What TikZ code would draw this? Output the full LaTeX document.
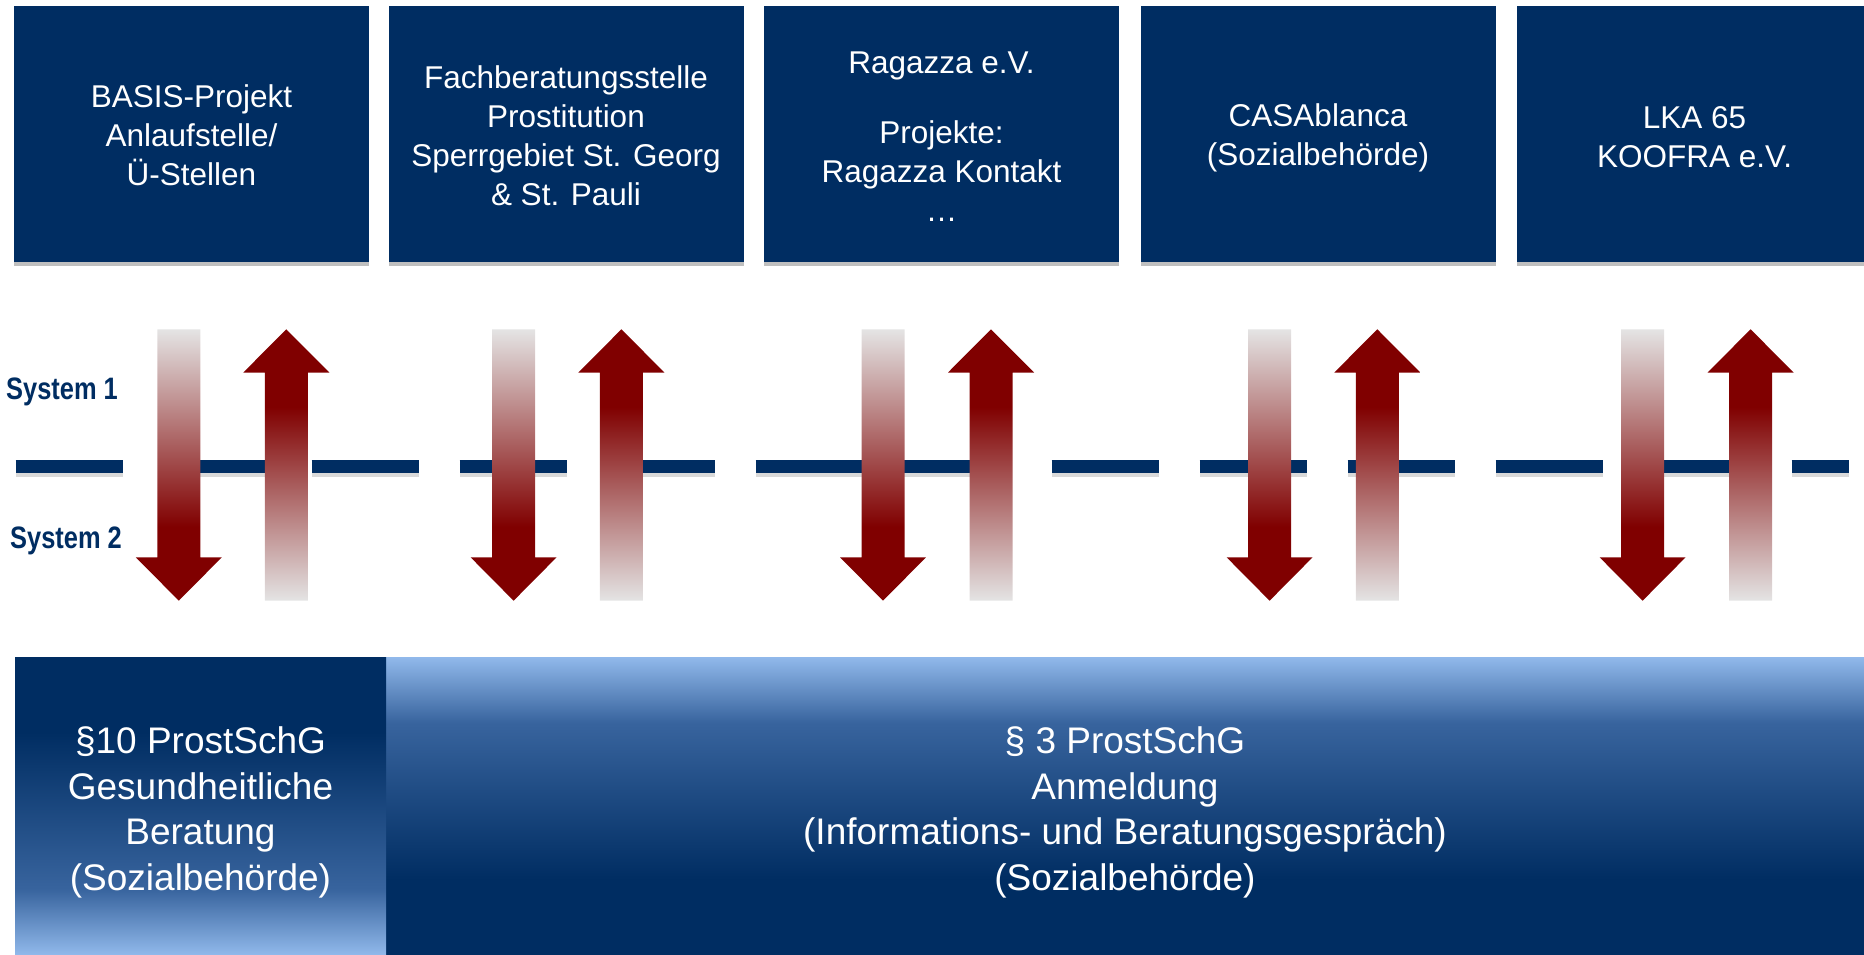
\documentclass[tikz,border=0pt]{standalone}
\usepackage{fontspec}
\setmainfont{Liberation Sans}
\usetikzlibrary{shadows}
\definecolor{navy}{RGB}{0,45,98}
\definecolor{dred}{RGB}{128,0,0}
\definecolor{lgray}{RGB}{228,228,228}
\definecolor{midblue}{RGB}{56,100,158}
\definecolor{lblue}{RGB}{145,185,235}
\pgfdeclareverticalshading{downshade}{100bp}{color(0bp)=(dred); color(38.6bp)=(dred); color(75bp)=(lgray); color(100bp)=(lgray)}
\pgfdeclareverticalshading{upshade}{100bp}{color(0bp)=(lgray); color(25bp)=(lgray); color(60.7bp)=(dred); color(100bp)=(dred)}
\pgfdeclareverticalshading{rightshade}{100bp}{color(0bp)=(navy); color(37.6bp)=(navy); color(64bp)=(midblue); color(75bp)=(lblue); color(100bp)=(lblue)}
\pgfdeclareverticalshading{leftshade}{100bp}{color(0bp)=(lblue); color(25bp)=(lblue); color(36bp)=(midblue); color(62.4bp)=(navy); color(100bp)=(navy)}
\begin{document}
\begin{tikzpicture}[x=1pt,y=-1pt,
  topbox/.style={fill=navy, minimum width=355pt, minimum height=256pt, inner sep=0pt,
    drop shadow={shadow xshift=0pt, shadow yshift=-4pt, opacity=0.25, fill=black}},
  toptext/.style={inner sep=0pt, text=white, align=center, font=\fontsize{31.5}{39}\selectfont},
  botbox/.style={minimum height=298pt, inner sep=0pt},
  bottext/.style={inner sep=0pt, text=white, align=center, font=\fontsize{37}{45.5}\selectfont},
  syslabel/.style={text=navy, inner sep=0pt, anchor=west, font=\fontsize{31}{31}\selectfont\bfseries},
  sysline/.style={line width=13pt, dash pattern=on 107pt off 41pt}
]
\useasboundingbox (0,0) rectangle (1864,955);

% top boxes
\node[topbox] (b1) at (191.5,134) {};
\node[topbox] (b2) at (566,134) {};
\node[topbox] (b3) at (941.5,134) {};
\node[topbox] (b4) at (1318,134) {};
\node[topbox] (b5) at (1694.5,134) {};
\node[toptext] (t1) at ([yshift=-1.5pt]b1.center) {BASIS-Projekt\\Anlaufstelle/\\Ü-Stellen};
\node[toptext] (t2) at ([yshift=-2pt]b2.center) {Fachberatungsstelle\\Prostitution\\Sperrgebiet St. Georg\\\& St. Pauli};
\node[toptext] (t3) at ([yshift=-2.5pt]b3.center) {Ragazza e.V.\\[31pt]Projekte:\\Ragazza Kontakt\\…};
\node[toptext] (t4) at ([yshift=-4pt]b4.center) {CASAblanca\\(Sozialbehörde)};
\node[toptext] (t5) at ([yshift=-3.5pt]b5.center) {LKA 65\\KOOFRA e.V.};

% system labels
\node[syslabel] (s1) at (6,392) {\scalebox{0.82}[1]{System 1}};
\node[syslabel] (s2) at (10,541) {\scalebox{0.82}[1]{System 2}};

% dashed boundary line with shadow
\coordinate (lineL) at (15.5,466);
\coordinate (lineR) at (1849,466);
\draw[sysline, black, opacity=0.15] ([yshift=-4pt]lineL) -- ([yshift=-4pt]lineR);
\draw[sysline, navy] (lineL) -- (lineR);

% arrows
\foreach \d/\u in {178.8/286.3, 513.6/621.4, 883/991, 1269.6/1377.3, 1642.6/1750.6}{
  \shade[shading=downshade] (\d-21.5,329.3) -- (\d+21.5,329.3) -- (\d+21.5,557.3) -- (\d+43,557.3)
     -- (\d,600.7) -- (\d-43,557.3) -- (\d-21.5,557.3) -- cycle;
  \shade[shading=upshade] (\u,329.3) -- (\u+43,372.5) -- (\u+21.5,372.5) -- (\u+21.5,600.7)
     -- (\u-21.5,600.7) -- (\u-21.5,372.5) -- (\u-43,372.5) -- cycle;
}

% bottom boxes
\node[botbox, shading=rightshade, minimum width=1478pt] (p3) at (1125,806) {};
\node[botbox, shading=leftshade, minimum width=371pt] (p10) at (200.5,806) {};
\node[bottext] (q3) at ([yshift=-6.5pt]p3.center)
  {§ 3 ProstSchG\\Anmeldung\\(Informations- und Beratungsgespräch)\\(Sozialbehörde)};
\node[bottext] (q10) at ([yshift=-6.5pt]p10.center)
  {§10 ProstSchG\\Gesundheitliche\\Beratung\\(Sozialbehörde)};
\end{tikzpicture}
\end{document}
